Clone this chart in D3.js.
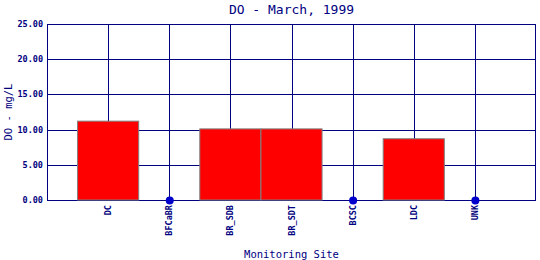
<!DOCTYPE html>
<html>
<head>
<meta charset="utf-8">
<script src="https://cdn.jsdelivr.net/npm/d3@7"></script>
<style>
  body { margin: 0; background: #fff; }
  text { font-family: "DejaVu Sans Mono", monospace; fill: #000080; }
</style>
</head>
<body>
<div id="chart-area"></div>
<script>
/* DO - March, 1999 */

// data
const sites = ["DC", "BFCaBR", "BR_SDB", "BR_SDT", "BCSC", "LDC", "UNK"]
const doValues = [11.2, 0, 10.1, 10.1, 0, 8.7, 0]
const yTicks = [0, 5, 10, 15, 20, 25]

const MARGIN = { LEFT: 47, RIGHT: 4, TOP: 24, BOTTOM: 60 }
const WIDTH = 540 - MARGIN.LEFT - MARGIN.RIGHT
const HEIGHT = 260 - MARGIN.TOP - MARGIN.BOTTOM

const svg = d3.select("#chart-area").append("svg")
    .attr("width", 540)
    .attr("height", 260)

const g = svg.append("g")
    .attr("transform", `translate(${MARGIN.LEFT},${MARGIN.TOP})`)

// scales
const x = d3.scaleLinear()
    .domain([0, sites.length + 1])
    .range([0, WIDTH])

const y = d3.scaleLinear()
    .domain([0, 25])
    .range([HEIGHT, 0])

const slot = x(1) - x(0)
const points = doValues.map((v, i) => ({ v, i }))

// grid
g.selectAll(".hgrid").data(yTicks).enter().append("line")
    .attr("x1", 0).attr("x2", WIDTH)
    .attr("y1", d => Math.round(y(d)) + 0.5).attr("y2", d => Math.round(y(d)) + 0.5)
    .attr("stroke", "#000080")

g.selectAll(".vgrid").data(sites).enter().append("line")
    .attr("x1", (d, i) => Math.round(x(i + 1)) + 0.5).attr("x2", (d, i) => Math.round(x(i + 1)) + 0.5)
    .attr("y1", 0).attr("y2", HEIGHT)
    .attr("stroke", "#000080")

g.append("line")
    .attr("x1", 0.5).attr("x2", 0.5).attr("y1", 0).attr("y2", HEIGHT)
    .attr("stroke", "#000080")
g.append("line")
    .attr("x1", Math.round(WIDTH) - 0.5).attr("x2", Math.round(WIDTH) - 0.5).attr("y1", 0).attr("y2", HEIGHT)
    .attr("stroke", "#000080")

// bars
g.selectAll(".bar").data(points.filter(d => d.v > 0)).enter()
    .append("rect")
    .attr("x", d => x(d.i + 1) - slot / 2)
    .attr("y", d => y(d.v))
    .attr("width", slot)
    .attr("height", d => HEIGHT - y(d.v))
    .attr("fill", "#ff0000")
    .attr("stroke", "#808080")

// zero-value markers
g.selectAll(".dot").data(points.filter(d => d.v === 0)).enter()
    .append("circle")
    .attr("cx", d => x(d.i + 1) + 0.5)
    .attr("cy", d => y(d.v) + 0.5)
    .attr("r", 4)
    .attr("fill", "#0000cc")

// y tick labels
g.selectAll(".ytick").data(yTicks).enter().append("text")
    .attr("x", -4)
    .attr("y", d => y(d) + 3)
    .attr("text-anchor", "end")
    .attr("font-size", "8.5px")
    .attr("font-weight", "bold")
    .text(d => d.toFixed(2))

// x tick labels
g.selectAll(".xtick").data(sites).enter().append("text")
    .attr("transform", (d, i) => `translate(${x(i + 1) + 3},${HEIGHT + 5}) rotate(-90)`)
    .attr("text-anchor", "end")
    .attr("font-size", "8.5px")
    .attr("font-weight", "bold")
    .text(d => d)

// title + axis labels
svg.append("text")
    .attr("x", MARGIN.LEFT + WIDTH / 2)
    .attr("y", 14)
    .attr("text-anchor", "middle")
    .attr("font-size", "13px")
    .text("DO - March, 1999")

svg.append("text")
    .attr("x", MARGIN.LEFT + WIDTH / 2)
    .attr("y", 258)
    .attr("text-anchor", "middle")
    .attr("font-size", "10.5px")
    .text("Monitoring Site")

svg.append("text")
    .attr("transform", `translate(12,${MARGIN.TOP + HEIGHT / 2}) rotate(-90)`)
    .attr("text-anchor", "middle")
    .attr("font-size", "10.5px")
    .text("DO - mg/L")
</script>
</body>
</html>
